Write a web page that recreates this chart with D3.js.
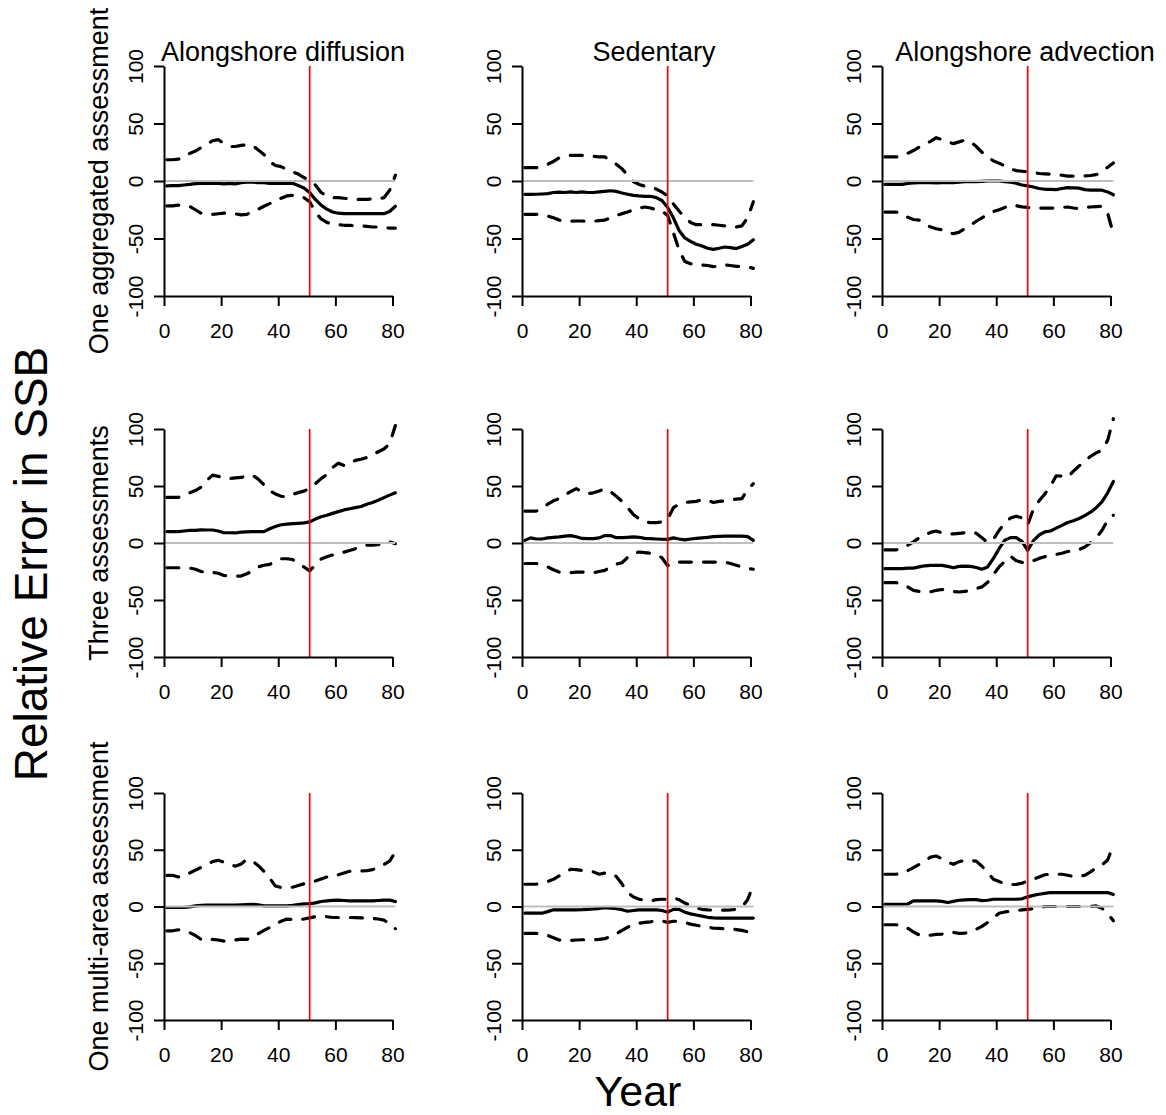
<!DOCTYPE html>
<html>
<head>
<meta charset="utf-8">
<script src="https://cdn.jsdelivr.net/npm/d3@7"></script>
<style>
body { margin: 0; background: #fff; }
svg text { font-family: Arial, "Liberation Sans", Helvetica, sans-serif; fill: #000; }
</style>
</head>
<body>
<div id="chart"></div>
<script>

var years = [1,3,5,7,9,11,13,15,17,19,21,23,25,27,29,31,33,35,37,39,41,43,45,47,49,51,53,55,57,59,61,63,65,67,69,71,73,75,77,79,81];

var colNames = ["Alongshore diffusion", "Sedentary", "Alongshore advection"],
    rowNames = ["One aggregated assessment", "Three assessments", "One multi-area assessment"],
    xTicks = [0, 20, 40, 60, 80],
    yTicks = [-100, -50, 0, 50, 100],
    changeYear = 51;

// row 1: one aggregated assessment
var adAggUpper = [18.5,18.5,19,21,24,26,29,32,35,36,32.5,30,30,31,31.5,31,27,23,17,13.5,12.5,10,8,6,3,0.5,-3.5,-10,-13,-14.5,-14.5,-15,-15.5,-16,-16,-16,-15.5,-15.5,-14.5,-8,5];
var adAggMean  = [-4.3,-4,-4,-3.5,-3,-2.3,-2,-2,-2,-2,-2.5,-2,-2.5,-1.5,-1,-1,-1.5,-1.5,-2,-2,-2,-2,-2,-4,-6,-10,-16,-21,-24.5,-27,-28,-28.4,-28.4,-28.4,-28.4,-28.4,-28.4,-28.4,-28.4,-26.5,-22];
var adAggLower = [-21.7,-21.7,-21,-21,-22,-25,-28,-29,-29,-28.5,-28,-28,-28.5,-29.5,-29,-26.5,-24.5,-22,-19.7,-17.5,-15,-13,-12.5,-13,-14.5,-18,-27,-33,-36,-37.5,-38,-38.5,-38.5,-39,-39,-39.5,-40,-40,-40.5,-41,-41];

var sedAggUpper = [11.6,11.6,11.6,12.5,14.5,17,20,21.5,22.3,22.3,22.3,22.3,21.5,21,21,18,14.5,10.7,5,-0.5,-3,-4.5,-5,-7,-9.6,-13,-20,-26,-32,-36,-38,-38,-38,-38,-38.5,-39,-39.5,-40,-39,-32,-18];
var sedAggMean  = [-11.6,-11.6,-11.5,-11.3,-11,-10,-9.6,-10,-9.5,-10,-9.5,-10,-10,-9.5,-9,-8.5,-9,-10.4,-11.5,-12.5,-13,-13.3,-13.3,-14.5,-17,-23,-32,-43,-49.5,-52.5,-55,-56.5,-58.5,-59.4,-58.5,-57.4,-58,-58.8,-57,-55,-51];
var sedAggLower = [-29,-29,-29,-29.5,-30.5,-32,-34,-35,-35,-34.8,-34.8,-35,-35,-34.5,-34,-32,-30,-28.4,-27,-25,-23.5,-22.6,-23.5,-25,-26,-30,-45,-60,-70,-72,-72.5,-73,-73.5,-74.5,-74,-73,-73.5,-74.2,-74.2,-74.5,-76];

var advAggUpper = [20.9,20.9,20.9,22,24,26.5,29.5,32,34.5,37.7,36,34,32.5,34,35.5,34,30,25,21,17.5,15.5,13,10.5,9,8.5,8,7.5,6.5,6.2,6,5.6,5,4.3,4.3,4.3,4.5,4.8,5.5,8,12,15.7];
var advAggMean  = [-2.9,-3,-3,-3,-2.2,-1.7,-1.5,-1.5,-1.5,-1.7,-1.5,-1.5,-1.5,-1,-0.6,-0.6,-0.5,-0.3,0,0,0,-0.5,-1,-2,-3.5,-4.3,-5.2,-6.5,-7.2,-7.3,-7.5,-6.5,-5.8,-6,-6.2,-7.5,-8,-8,-8,-9.5,-12];
var advAggLower = [-27,-27,-27,-28.5,-31.5,-33.5,-34,-37,-40,-41.5,-42.5,-45,-45.8,-44.5,-41.5,-38.5,-35,-32,-29,-26.5,-25,-23,-21,-21.5,-22.5,-23,-23.3,-23.5,-23.5,-23.5,-23.5,-23,-22.6,-23.5,-24,-23,-22.6,-22.3,-22,-28,-46];

// row 2: three assessments
var adThreeUpper = [40,40,40,41.5,44,46,49,55,59.5,58.5,57,56.5,57.2,57.5,59,59.5,56,51,46,43,41,40.4,42.5,44.2,45.5,48,52,56.5,60,66,70,68,69.5,72.5,73.5,75,77.5,80,82.5,87,103];
var adThreeMean  = [10,10,10,10.5,11,11,11.5,11.4,11.4,10.5,9,9,8.8,9.5,9.7,10,10,10,12.5,14.5,16,16.5,17,17.3,17.6,18.5,21,23,24.3,26,27.5,29,30,31,32,34,35.5,37.5,39.8,42,44];
var adThreeLower = [-21.7,-21.7,-21.7,-21.7,-22,-23,-25,-26,-25.7,-26.5,-28.5,-29,-29,-29,-27,-24.5,-21,-19.5,-18.7,-16,-13.8,-13.8,-14.5,-17.7,-21,-24.5,-19,-14,-12,-10.5,-9.5,-8,-6.5,-5,-3.5,-1.8,-1.8,-1.5,0.5,1,-0.6];

var sedThreeUpper = [28,28,28,30,34,37,39,42,45,47.7,45,43.3,44,45.7,47.5,45,41,36.5,31,25,21,18.5,17.9,17.9,18.5,21,31,34,35.5,36,36.5,38,37.5,35.5,36.5,37,38,38.5,39,47,52];
var sedThreeMean  = [2.3,4.5,3.5,3.5,4.5,5,5.3,6,6.5,5.5,4,3.8,3.8,4.5,6.5,6.5,4.7,4.7,5,5.3,5,4,3.8,3.5,3.3,3.2,4.5,3.5,2.8,3.5,4,4.5,5,5.6,5.8,6,6.1,6.1,6,5.6,2.3];
var sedThreeLower = [-18,-18,-18,-19,-21,-23.5,-25.5,-26,-26,-25.5,-25.5,-26,-26,-25,-24,-21,-18.5,-17.3,-12.5,-9,-7.9,-8.5,-9,-10.5,-12.9,-20,-17,-16.7,-16.7,-16.7,-16.7,-16.7,-16.7,-16.7,-16.7,-16.7,-18,-19.5,-21,-22.5,-23];

var advThreeUpper = [-6.1,-6.1,-6,-4.5,-2,1,4.5,7,9.3,10.5,9,7.8,8,8.5,9,9.7,8.5,4.5,0.5,3.2,11,17.5,22,23.5,22,16,29.6,37,43,50,59,58.5,57.5,63,67.5,72,76,79,81.5,90,109];
var advThreeMean  = [-22.5,-22.5,-22.5,-22.5,-22,-22,-21,-20,-19.6,-19.6,-19.6,-20.5,-21.7,-20.5,-20.2,-20.5,-21.5,-23,-21,-13.5,-5,2.5,4.7,4.7,1.5,-6.5,2,7,9.8,10.5,13,15.5,18,19.5,21.5,24,27,31,36,44,54];
var advThreeLower = [-34.8,-34.8,-34.8,-36,-38.5,-41.5,-42.5,-43,-42.8,-41.5,-40.8,-41.5,-42.5,-43,-42.5,-41.5,-40,-38.5,-34.5,-27.5,-21,-16,-11.5,-15.5,-17,-17.3,-15.5,-13.5,-12,-11,-10,-9,-7.5,-6.5,-5.8,-3.5,0.3,4.5,11,20,24.3];

// row 3: one multi-area assessment
var adMultiUpper = [27.5,27.5,26,26.5,29.5,32,34.5,37,39.5,40.7,39,37,35.5,37.5,41.5,40,36,31,25,18,16.7,16.7,17,18.5,20,21,22.5,24.3,26,27.3,28,29.5,31,31.3,31.3,31.5,32.5,34.5,37,40,48];
var adMultiMean  = [-0.9,-0.9,-0.9,-0.9,-0.3,0.5,1,1.2,1.2,1.2,1.2,1.2,1.2,1.4,1.7,2,1.5,0.6,0.6,0.6,0.6,0.6,1,1.7,2.3,2.6,3.2,4.4,5,5.4,5.6,5.3,5,5,5,5,5,5.3,5.7,5.6,4.4];
var adMultiLower = [-21.4,-21.4,-20.5,-21,-23,-25.5,-29,-30,-29,-29.5,-30.5,-30.5,-29.5,-28.7,-29,-27,-24,-21,-18.5,-15.5,-13,-11.1,-11.5,-12,-11,-10,-9,-8.5,-9,-9.7,-9.7,-9.7,-9.7,-9.8,-10,-10.2,-10.5,-11,-12,-15,-19.5];

var sedMultiUpper = [19.6,19.6,19.6,20.5,22,24,27,30,32.8,32.5,31.8,31.5,30.5,28.4,29.5,29.5,26.5,20,12,8.5,6.4,5.5,5,6,6.4,6.4,7.5,6,3,1,-1,-2.5,-3,-3.2,-3.2,-3.2,-3,-2.5,-0.5,6,19];
var sedMultiMean  = [-5.9,-5.9,-5.9,-5.9,-4.5,-2.9,-2.9,-2.9,-2.9,-2.9,-2.8,-2.5,-2.2,-1.8,-1,-1.5,-2,-2.8,-4.2,-3.5,-2.9,-2.9,-2.9,-2.9,-3.5,-5,-2.5,-2.5,-5,-6.5,-7.5,-8.5,-9.5,-10,-10.2,-10.2,-10.2,-10.2,-10.2,-10.2,-10.2];
var sedMultiLower = [-23.7,-23.7,-23.7,-24,-25.5,-27.5,-29.5,-30.2,-30,-29.5,-29.3,-29.3,-29.3,-29,-28.3,-26.5,-24,-21,-18.3,-16,-14.7,-14,-13.5,-12.5,-12.8,-14,-13,-13,-14,-15.5,-16.5,-17.5,-18.3,-19,-19.3,-19.5,-19.9,-20.3,-21,-22.3,-26];

var advMultiUpper = [28.4,28.4,28.4,29.5,31.5,34.3,37,40,43.5,44.5,42,39,37.2,39.5,40.7,40.5,40,35.5,30,24,22,20,19.3,19.5,20.5,22.5,24,26,28,28.4,28.4,28.4,27.5,26.4,26.6,27.5,30.5,34,36.5,41,54];
var advMultiMean  = [2,2,2,2,2.2,5,5,5,5,5,4.5,3.5,4.5,5.5,5.8,6,6,5.2,5.5,6.4,6.4,6.4,6.4,6.4,6.8,8.5,9.8,10.8,11.5,12.3,12.3,12.3,12.3,12.3,12.3,12.3,12.3,12.3,12.3,12.3,10.5];
var advMultiLower = [-16.1,-16.1,-16.1,-16.5,-19,-22.5,-25,-25.8,-25.3,-24.5,-24.3,-23,-22.8,-23.7,-23.5,-22.3,-20,-17.5,-14,-10,-6,-4.8,-4.4,-3.7,-3,-2.5,-2,-1,0,0,0,0,0,0,0,0,0,0.5,-1.5,-6,-12.6];

var grid = [
    [[adAggUpper, adAggMean, adAggLower], [sedAggUpper, sedAggMean, sedAggLower], [advAggUpper, advAggMean, advAggLower]],
    [[adThreeUpper, adThreeMean, adThreeLower], [sedThreeUpper, sedThreeMean, sedThreeLower], [advThreeUpper, advThreeMean, advThreeLower]],
    [[adMultiUpper, adMultiMean, adMultiLower], [sedMultiUpper, sedMultiMean, sedMultiLower], [advMultiUpper, advMultiMean, advMultiLower]]
];

// layout
var W = 1166, H = 1115,
    colLeft = [164, 522, 882], colWidth = 228.5,
    rowTop = [66, 429, 793], rowBottom = [296, 657, 1020],
    titleX = [283, 654, 1025];

var svg = d3.select("#chart").append("svg")
    .attr("width", W)
    .attr("height", H);

var line = function(x, y) {
    return d3.line()
        .x(function(d) { return x(d[0]); })
        .y(function(d) { return y(d[1]); });
};

// plain hyphen minus, like the original
var fmt = function(d) { return String(d); };

grid.forEach(function(row, r) {
    row.forEach(function(series, c) {
        var x = d3.scaleLinear().domain([0, 80]).range([colLeft[c], colLeft[c] + colWidth]);
        var y = d3.scaleLinear().domain([-100, 100]).range([rowBottom[r], rowTop[r]]);
        var g = svg.append("g");

        // upper, mean, lower
        series.forEach(function(vals, i) {
            g.append("path")
                .datum(years.map(function(yr, k) { return [yr, vals[k]]; }))
                .attr("d", line(x, y))
                .attr("fill", "none")
                .attr("stroke", "#000")
                .attr("stroke-width", 3.2)
                .attr("stroke-linecap", "round")
                .attr("stroke-linejoin", "round")
                .attr("stroke-dasharray", i == 1 ? null : "12,12");
        });

        g.append("line")
            .attr("x1", x(0)).attr("x2", x(81))
            .attr("y1", y(0)).attr("y2", y(0))
            .attr("stroke", "#bebebe")
            .attr("stroke-width", 2);

        g.append("line")
            .attr("x1", x(changeYear)).attr("x2", x(changeYear))
            .attr("y1", y(100)).attr("y2", y(-100))
            .attr("stroke", "#ff0000")
            .attr("stroke-width", 1.7);

        var xa = g.append("g")
            .attr("transform", "translate(0," + y(-100) + ")")
            .call(d3.axisBottom(x).tickValues(xTicks).tickFormat(fmt).tickSize(10).tickSizeOuter(0));
        xa.selectAll("text")
            .attr("y", 42).attr("dy", null)
            .style("font-size", "21px");

        var ya = g.append("g")
            .attr("transform", "translate(" + x(0) + ",0)")
            .call(d3.axisLeft(y).tickValues(yTicks).tickFormat(fmt).tickSize(10).tickSizeOuter(0));
        ya.selectAll("text")
            .attr("transform", "rotate(-90)")
            .attr("x", 0).attr("y", -21).attr("dy", null)
            .attr("text-anchor", "middle")
            .style("font-size", "21px");

        g.selectAll(".domain, .tick line")
            .attr("stroke", "#000")
            .attr("stroke-width", 2);
        g.selectAll(".tick text").attr("fill", "#000").attr("font-family", null);

        if (r == 0) {
            svg.append("text")
                .attr("x", titleX[c]).attr("y", 61)
                .attr("text-anchor", "middle")
                .style("font-size", "27px")
                .text(colNames[c]);
        }
    });

    svg.append("text")
        .attr("transform", "translate(108," + (rowTop[r] + rowBottom[r]) / 2 + ") rotate(-90)")
        .attr("text-anchor", "middle")
        .style("font-size", "27px")
        .text(rowNames[r]);
});

svg.append("text")
    .attr("transform", "translate(47,564) rotate(-90)")
    .attr("text-anchor", "middle")
    .style("font-size", "46px")
    .text("Relative Error in SSB");

svg.append("text")
    .attr("x", 638).attr("y", 1105.5)
    .attr("text-anchor", "middle")
    .style("font-size", "43px")
    .text("Year");

</script>
</body>
</html>
